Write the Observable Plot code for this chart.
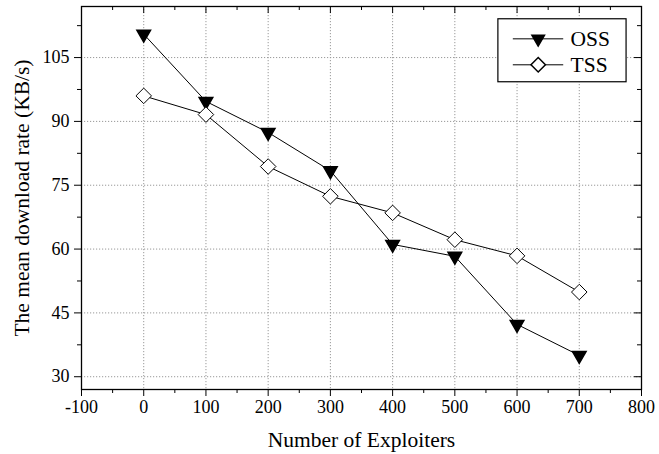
<!DOCTYPE html>
<html>
<head>
<meta charset="utf-8">
<script src="https://cdn.jsdelivr.net/npm/d3@7"></script>
<script src="https://cdn.jsdelivr.net/npm/@observablehq/plot@0.6"></script>
<style>
  html, body { margin: 0; padding: 0; background: #fff; }
  #chart { width: 659px; height: 454px; }
  #chart svg, #chart svg text { font-family: "Liberation Serif", "Times New Roman", serif !important; }
</style>
</head>
<body>
<div id="chart"></div>
<script>
const exploiters = [0, 100, 200, 300, 400, 500, 600, 700];
const ossRate = [110.5, 94.7, 87.4, 78.4, 61.1, 58.3, 42.3, 35.0];
const tssRate = [96.0, 91.6, 79.4, 72.4, 68.5, 62.2, 58.4, 49.9];
const xTicks = [-100, 0, 100, 200, 300, 400, 500, 600, 700, 800];
const xMinor = [-50, 50, 150, 250, 350, 450, 550, 650, 750];
const yTicks = [30, 45, 60, 75, 90, 105];
const yMinor = [37.5, 52.5, 67.5, 82.5, 97.5, 112.5];
const xGrid = [0, 100, 200, 300, 400, 500, 600, 700];
const seriesNames = ["OSS", "TSS"];
// legend placement in data units
const legendBox = {x1: 570, x2: 776, y1: 99.2, y2: 114};
const legendRows = [109.4, 103.3];
const legendLine = [594, 675];
const legendSymX = 634;
const legendTextX = 686;

const oss = exploiters.map((x, i) => ({x, y: ossRate[i]}));
const tss = exploiters.map((x, i) => ({x, y: tssRate[i]}));
const legend = seriesNames.map((name, i) => ({name, y: legendRows[i]}));

const W = 659, H = 454, mL = 81, mR = 18, mT = 6, mB = 65;
const fw = W - mL - mR, fh = H - mT - mB;

const plot = Plot.plot({
  width: W,
  height: H,
  marginLeft: mL,
  marginRight: mR,
  marginTop: mT,
  marginBottom: mB,
  style: {fontSize: "18px", color: "#000", background: "#fff"},
  x: {domain: [-100, 800]},
  y: {domain: [27, 117]},
  marks: [
    Plot.ruleX(xGrid, {stroke: "#999", strokeDasharray: "1.2,1.8", strokeWidth: 1}),
    Plot.ruleY(yTicks, {stroke: "#999", strokeDasharray: "1.2,1.8", strokeWidth: 1}),
    Plot.axisX({ticks: xTicks, tickSize: 7, tickPadding: 4, fontSize: 18, tickFormat: d => String(d), label: null}),
    Plot.axisX({ticks: [], label: "Number of Exploiters", labelAnchor: "center", labelArrow: "none", labelOffset: 57, fontSize: 21.5}),
    // minor bottom ticks (outward)
    Plot.ruleX(xMinor, {insetTop: fh, insetBottom: -4, stroke: "#000"}),
    // top ticks (inward)
    Plot.ruleX(xTicks, {insetBottom: fh - 7, stroke: "#000"}),
    Plot.ruleX(xMinor, {insetBottom: fh - 4, stroke: "#000"}),
    Plot.axisY({ticks: yTicks, tickSize: 7, tickPadding: 5, fontSize: 18, label: null}),
    Plot.axisY({ticks: [], label: "The mean download rate (KB/s)", labelAnchor: "center", labelArrow: "none", labelOffset: 68, fontSize: 21.5}),
    // minor left ticks (outward)
    Plot.ruleY(yMinor, {insetRight: fw, insetLeft: -4, stroke: "#000"}),
    // right ticks (inward)
    Plot.ruleY(yTicks, {insetLeft: fw - 7, stroke: "#000"}),
    Plot.ruleY(yMinor, {insetLeft: fw - 4, stroke: "#000"}),
    Plot.frame({stroke: "#000", strokeWidth: 1.3}),
    Plot.line(oss, {x: "x", y: "y", stroke: "#000", strokeWidth: 1}),
    Plot.line(tss, {x: "x", y: "y", stroke: "#000", strokeWidth: 1}),
    Plot.dot(oss, {x: "x", y: "y", symbol: "triangle2", r: 6.5, rotate: 180, fill: "#000", stroke: "#000"}),
    Plot.dot(tss, {x: "x", y: "y", symbol: "diamond2", r: 7, fill: "#fff", stroke: "#000", strokeWidth: 1}),
    // legend
    Plot.rect([legendBox], {x1: "x1", x2: "x2", y1: "y1", y2: "y2", fill: "#fff", stroke: "#000", strokeWidth: 1.2}),
    Plot.ruleY(legend, {y: "y", x1: legendLine[0], x2: legendLine[1], stroke: "#000", strokeWidth: 1}),
    Plot.dot(legend.filter(d => d.name === "OSS"), {x: legendSymX, y: "y", symbol: "triangle2", r: 6, rotate: 180, fill: "#000", stroke: "#000"}),
    Plot.dot(legend.filter(d => d.name === "TSS"), {x: legendSymX, y: "y", symbol: "diamond2", r: 6.5, fill: "#fff", stroke: "#000"}),
    Plot.text(legend, {x: legendTextX, y: "y", text: "name", textAnchor: "start", fontSize: 21.5, fill: "#000"})
  ]
});
document.getElementById("chart").appendChild(plot);
</script>
</body>
</html>
